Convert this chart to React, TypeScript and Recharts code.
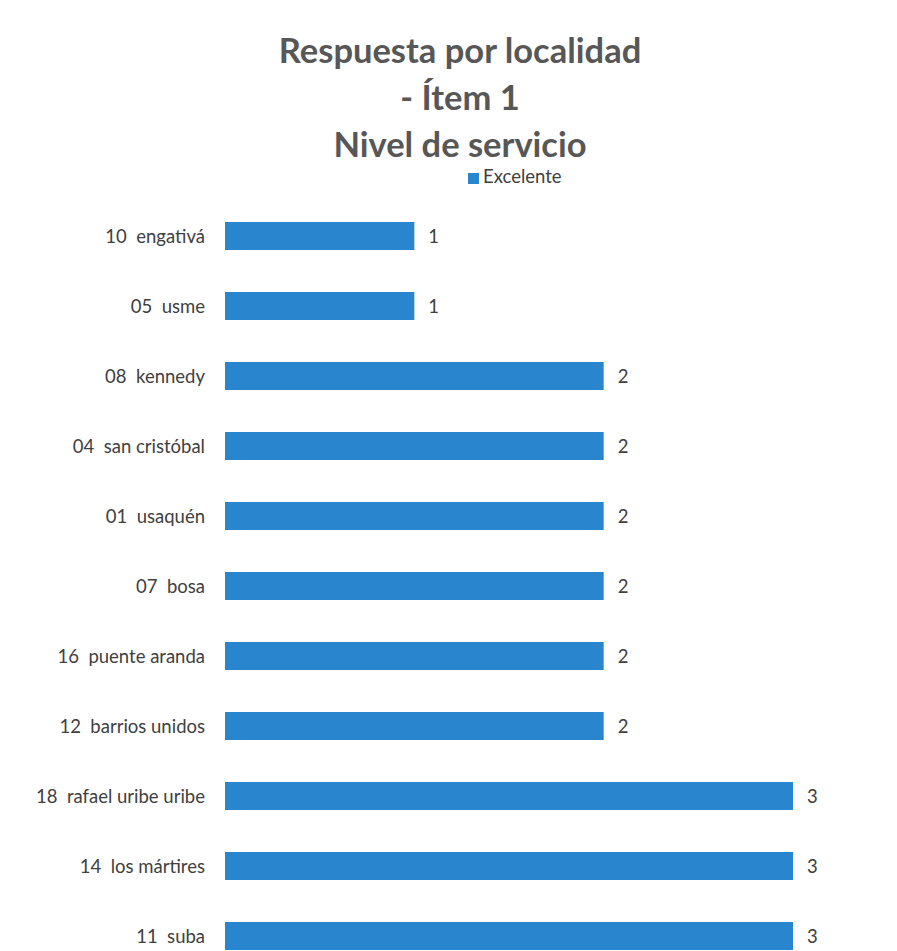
import { BarChart, Bar, XAxis, YAxis, Legend, LabelList } from "recharts";

const localidades = [
  "10\u00a0 engativá",
  "05\u00a0 usme",
  "08\u00a0 kennedy",
  "04\u00a0 san cristóbal",
  "01\u00a0 usaquén",
  "07\u00a0 bosa",
  "16\u00a0 puente aranda",
  "12\u00a0 barrios unidos",
  "18\u00a0 rafael uribe uribe",
  "14\u00a0 los mártires",
  "11\u00a0 suba",
];

const excelente = [1, 1, 2, 2, 2, 2, 2, 2, 3, 3, 3];

const titleLines = ["Respuesta por localidad", "- Ítem 1", "Nivel de servicio"];

const data = localidades.map((name, i) => ({ name, excelente: excelente[i] }));

export default function App() {
  return (
    <div
      style={{
        position: "absolute",
        left: 0,
        top: 0,
        width: 897,
        height: 951,
        overflow: "hidden",
        background: "#fff",
        fontFamily: "Lato, sans-serif",
      }}
    >
      <div
        style={{
          position: "absolute",
          top: 26,
          left: 0,
          width: 920,
          textAlign: "center",
          fontSize: 34.5,
          fontWeight: 700,
          lineHeight: "47px",
          color: "#575757",
        }}
      >
        {titleLines.map((t) => (
          <div key={t}>{t}</div>
        ))}
      </div>
      <BarChart
        width={897}
        height={1000}
        data={data}
        layout="vertical"
        margin={{ top: 179, right: 104, bottom: 29, left: 0 }}
      >
        <XAxis type="number" domain={[0, 3]} hide />
        <YAxis
          type="category"
          dataKey="name"
          width={225}
          axisLine={false}
          tickLine={false}
          tickSize={0}
          tickMargin={20}
          interval={0}
          tick={{ fill: "#404040", fontSize: 18.5, fontFamily: "Lato, sans-serif" }}
        />
        <Legend
          verticalAlign="top"
          iconType="square"
          iconSize={11}
          wrapperStyle={{ top: 165, left: 468, width: "auto", fontSize: 18.5, fontFamily: "Lato, sans-serif" }}
          formatter={(v) => <span style={{ color: "#404040" }}>{v}</span>}
        />
        <Bar dataKey="excelente" name="Excelente" fill="#2A85CF" barSize={28} isAnimationActive={false}>
          <LabelList
            dataKey="excelente"
            position="right"
            offset={14}
            fill="#404040"
            fontSize={18.5}
            fontFamily="Lato, sans-serif"
          />
        </Bar>
      </BarChart>
    </div>
  );
}
